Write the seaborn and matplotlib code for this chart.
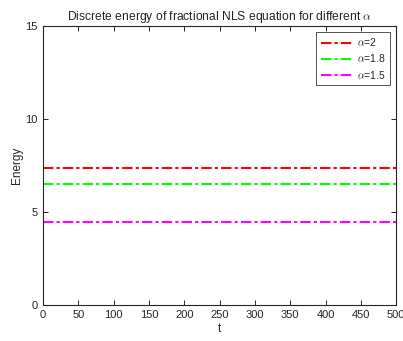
import numpy as np
import pandas as pd
import matplotlib
matplotlib.use("Agg")
import matplotlib.pyplot as plt
import seaborn as sns

# === Data ===
t = [0, 500]
energy_a2 = [7.37, 7.37]
energy_a18 = [6.48, 6.48]
energy_a15 = [4.47, 4.47]
labels = [r"$\alpha$=2", r"$\alpha$=1.8", r"$\alpha$=1.5"]
colors = ["#ff0000", "#00ff00", "#ff00ff"]

df = pd.DataFrame({
    "t": t * 3,
    "Energy": energy_a2 + energy_a18 + energy_a15,
    "alpha": [labels[0]] * len(t) + [labels[1]] * len(t) + [labels[2]] * len(t),
})

sns.set_style("white")
plt.rcParams["font.family"] = ["Liberation Sans", "DejaVu Sans"]
plt.rcParams["mathtext.fontset"] = "cm"

fig = plt.figure(figsize=(4.03, 3.41), dpi=100)
ax = fig.add_axes([0.107, 0.106, 0.876, 0.818])

sns.lineplot(data=df, x="t", y="Energy", hue="alpha", hue_order=labels,
             palette=colors, ax=ax, linewidth=1.5)
for line in ax.get_lines():
    line.set_linestyle((0, (5, 1.5, 1.5, 1.5)))

ax.set_xlim(0, 500)
ax.set_ylim(0, 15)
ax.set_xticks(np.arange(0, 501, 50))
ax.set_yticks([0, 5, 10, 15])
ax.tick_params(direction="in", bottom=True, left=True, top=True, right=True,
               labelsize=8, length=3.5, width=0.7, colors="#262626", pad=4)
for s in ax.spines.values():
    s.set_color("#262626")
    s.set_linewidth(0.8)
ax.set_xlabel("t", fontsize=8.5, color="#262626", labelpad=2)
ax.set_ylabel("Energy", fontsize=8.5, color="#262626", labelpad=1.5)
ax.set_title(r"Discrete energy of fractional NLS equation for different $\alpha$",
             fontsize=8.7, pad=4)

leg = ax.legend(loc="upper right", fontsize=7.5, frameon=True, fancybox=False,
                edgecolor="#262626", handlelength=3.2, handletextpad=0.3,
                borderaxespad=0.6, labelspacing=0.4)
leg.get_frame().set_linewidth(0.7)
for h in leg.get_lines():
    h.set_linestyle((0, (5, 1.5, 1.5, 1.5)))
    h.set_linewidth(1.5)

fig.savefig("out.png", dpi=100)
